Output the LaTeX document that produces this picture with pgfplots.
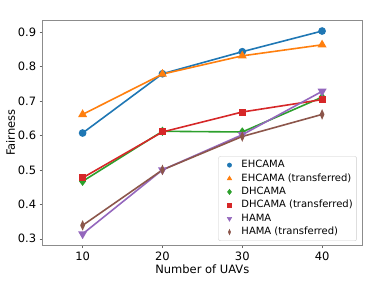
\documentclass[border=0pt]{standalone}
\usepackage{pgfplots}
\pgfplotsset{compat=1.18}
\usepackage{fontspec}
\setmainfont{DejaVu Sans}
\definecolor{tabblue}{HTML}{1F77B4}
\definecolor{taborange}{HTML}{FF7F0E}
\definecolor{tabgreen}{HTML}{2CA02C}
\definecolor{tabred}{HTML}{D62728}
\definecolor{tabpurple}{HTML}{9467BD}
\definecolor{tabbrown}{HTML}{8C564B}
\pgfplotsset{
  mylegimg/.style={only marks, legend image code/.code={\path[draw=none,fill=none] (0pt,0pt) -- (19pt,0pt); \draw[##1,line width=0.4pt] plot coordinates {(8pt,0pt)};}}
}
\begin{document}
\begin{tikzpicture}
\path[use as bounding box] (-42.7pt,-40pt) rectangle (339.3pt,245pt);
\begin{axis}[
  scale only axis,
  width=319.3pt, height=225pt,
  xmin=5, xmax=45, ymin=0.282, ymax=0.935,
  xtick={10,20,30,40},
  ytick={0.3,0.4,0.5,0.6,0.7,0.8,0.9},
  yticklabel style={/pgf/number format/fixed,/pgf/number format/precision=1,/pgf/number format/fixed zerofill},
  /pgf/number format/assume math mode=true,
  tick label style={font=\fontsize{11.5}{13}\selectfont},
  label style={font=\fontsize{11.5}{13}\selectfont},
  xlabel={Number of UAVs},
  ylabel={Fairness},
  xlabel style={yshift=2pt},
  ylabel style={yshift=-4pt},
  axis line style={black!45, line width=0.8pt},
  tick style={black!60, line width=0.6pt},
  tick align=outside,
  major tick length=3pt,
  xtick pos=bottom, ytick pos=left,
  legend cell align=left,
  legend style={at={(rel axis cs:0.984,0.018)}, anchor=south east,
    font=\fontsize{10}{11}\selectfont, draw=black!20, rounded corners=2pt,
    row sep=2.1pt, column sep=0pt, inner sep=3pt,
    nodes={inner sep=1pt, text height=7.3pt, text depth=2pt}},
  every axis plot/.append style={line width=1.6pt},
]
\addplot[tabblue, mark=*, mark size=3pt, forget plot] coordinates {(10,0.607) (20,0.779) (30,0.843) (40,0.903)};
\addplot[taborange, mark=triangle*, mark size=3.6pt, forget plot] coordinates {(10,0.661) (20,0.778) (30,0.831) (40,0.863)};
\addplot[tabgreen, mark=diamond*, mark size=3.4pt, forget plot] coordinates {(10,0.467) (20,0.612) (30,0.610) (40,0.711)};
\addplot[tabred, mark=square*, mark size=2.7pt, forget plot] coordinates {(10,0.477) (20,0.610) (30,0.668) (40,0.704)};
\addplot[tabpurple, mark=triangle*, mark size=3.6pt, mark options={rotate=180}, forget plot] coordinates {(10,0.314) (20,0.500) (30,0.602) (40,0.728)};
\addplot[tabbrown, mark=diamond*, mark size=3.4pt, mark options={xscale=0.6}, forget plot] coordinates {(10,0.339) (20,0.500) (30,0.597) (40,0.661)};
\addlegendimage{mylegimg, tabblue, mark=*, mark size=2.2pt}
\addlegendentry{EHCAMA}
\addlegendimage{mylegimg, taborange, mark=triangle*, mark size=2.6pt}
\addlegendentry{EHCAMA (transferred)}
\addlegendimage{mylegimg, tabgreen, mark=diamond*, mark size=2.7pt}
\addlegendentry{DHCAMA}
\addlegendimage{mylegimg, tabred, mark=square*, mark size=2.1pt}
\addlegendentry{DHCAMA (transferred)}
\addlegendimage{mylegimg, tabpurple, mark=triangle*, mark size=2.6pt, mark options={rotate=180}}
\addlegendentry{HAMA}
\addlegendimage{mylegimg, tabbrown, mark=diamond*, mark size=2.7pt, mark options={xscale=0.6}}
\addlegendentry{HAMA (transferred)}
\end{axis}
\end{tikzpicture}
\end{document}
